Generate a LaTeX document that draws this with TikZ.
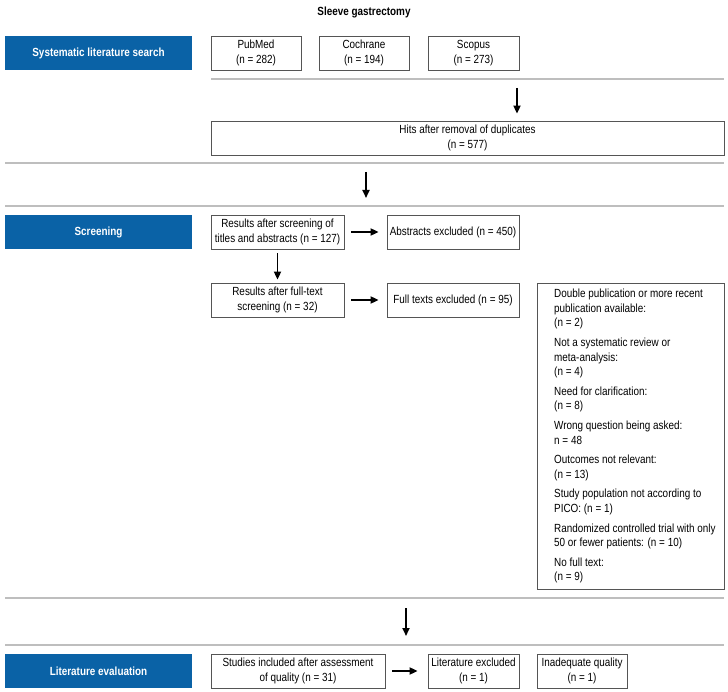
\documentclass[tikz,border=0pt]{standalone}
\usepackage{fontspec}
\setmainfont{Liberation Sans}[FakeStretch=0.84]
\usetikzlibrary{arrows.meta}
\definecolor{hdrblue}{RGB}{10,98,166}
\definecolor{rulegray}{RGB}{190,190,190}
\definecolor{boxline}{RGB}{85,85,85}
\begin{document}
\begin{tikzpicture}[x=1pt,y=-1pt,
  box/.style={draw=boxline, line width=0.8pt, inner sep=0pt, align=center,
    font=\fontsize{11.8}{15}\selectfont, minimum height=34pt},
  hdr/.style={fill=hdrblue, text=white, font=\fontsize{11.8}{15}\selectfont\bfseries,
    minimum width=187pt, minimum height=34pt, inner sep=0pt},
  sep/.style={draw=rulegray, line width=1.2pt},
  arr/.style={-{Triangle[length=8pt,width=7pt]}, line width=1.8pt, black},
  listtxt/.style={align=left, inner sep=0pt, anchor=north west,
    font=\fontsize{11.8}{14.6}\selectfont}
]
\useasboundingbox (0,0) rectangle (728,692);

\node[font=\fontsize{11.8}{15}\selectfont\bfseries] (title) at (364,12) {Sleeve gastrectomy};

% Section 1
\node[hdr] (h1) at (98.5,53) {Systematic literature search};
\node[box, minimum width=90pt] (pub) at (256,53) {PubMed\\(n = 282)};
\node[box, minimum width=90pt] (coc) at (364,53) {Cochrane\\(n = 194)};
\node[box, minimum width=91pt] (sco) at (473.5,53) {Scopus\\(n = 273)};
\draw[sep] (211,79) -- (724,79);
\node[box, minimum width=513pt] (hits) at (467.5,138) {Hits after removal of duplicates\\(n = 577)};
\coordinate (a1s) at (517,88);
\draw[arr, shorten >=7pt] (a1s) -- (a1s |- hits.north);
\draw[sep] (5,163) -- (724,163);
\coordinate (a2s) at (366,172);
\coordinate (a2e) at (366,198);
\draw[arr] (a2s) -- (a2e);
\draw[sep] (5,206) -- (724,206);

% Section 2
\node[hdr] (h2) at (98.5,232) {Screening};
\node[box, minimum width=133pt] (res) at (277.5,232) {Results after screening of\\titles and abstracts (n = 127)};
\node[box, minimum width=132pt] (abs) at (453,232) {Abstracts excluded (n = 450)};
\node[box, minimum width=133pt] (ft) at (277.5,300) {Results after full-text\\screening (n = 32)};
\node[box, minimum width=132pt] (fte) at (453,300) {Full texts excluded (n = 95)};
\draw[arr] ([xshift=7pt]res.east) -- ([xshift=-8pt]abs.west);
\draw[arr] ([xshift=7pt]ft.east) -- ([xshift=-8pt]fte.west);
\draw[arr] ([yshift=-4pt]res.south) -- ([yshift=3pt]ft.north);
\node[box, minimum width=187pt, minimum height=306pt] (exbox) at (630.5,436) {};
\node[listtxt] (exlist) at (554,289) {Double publication or more recent\\
publication available:\\
(n = 2)\\[5pt]
Not a systematic review or\\
meta-analysis:\\
(n = 4)\\[5pt]
Need for clarification:\\
(n = 8)\\[5pt]
Wrong question being asked:\\
n = 48\\[5pt]
Outcomes not relevant:\\
(n = 13)\\[5pt]
Study population not according to\\
PICO: (n = 1)\\[5pt]
Randomized controlled trial with only\\
50 or fewer patients: (n = 10)\\[5pt]
No full text:\\
(n = 9)};
\draw[sep] (5,598) -- (724,598);
\coordinate (a3s) at (406,608);
\coordinate (a3e) at (406,636);
\draw[arr] (a3s) -- (a3e);
\draw[sep] (5,645) -- (724,645);

% Section 3
\node[hdr] (h3) at (98.5,671) {Literature evaluation};
\node[box, minimum width=174pt] (stud) at (298,671) {Studies included after assessment\\of quality (n = 31)};
\node[box, minimum width=91pt] (lexc) at (473.5,671) {Literature excluded\\(n = 1)};
\node[box, minimum width=90pt] (inad) at (582,671) {Inadequate quality\\(n = 1)};
\draw[arr] ([xshift=7pt]stud.east) -- ([xshift=-10pt]lexc.west);
\end{tikzpicture}
\end{document}
